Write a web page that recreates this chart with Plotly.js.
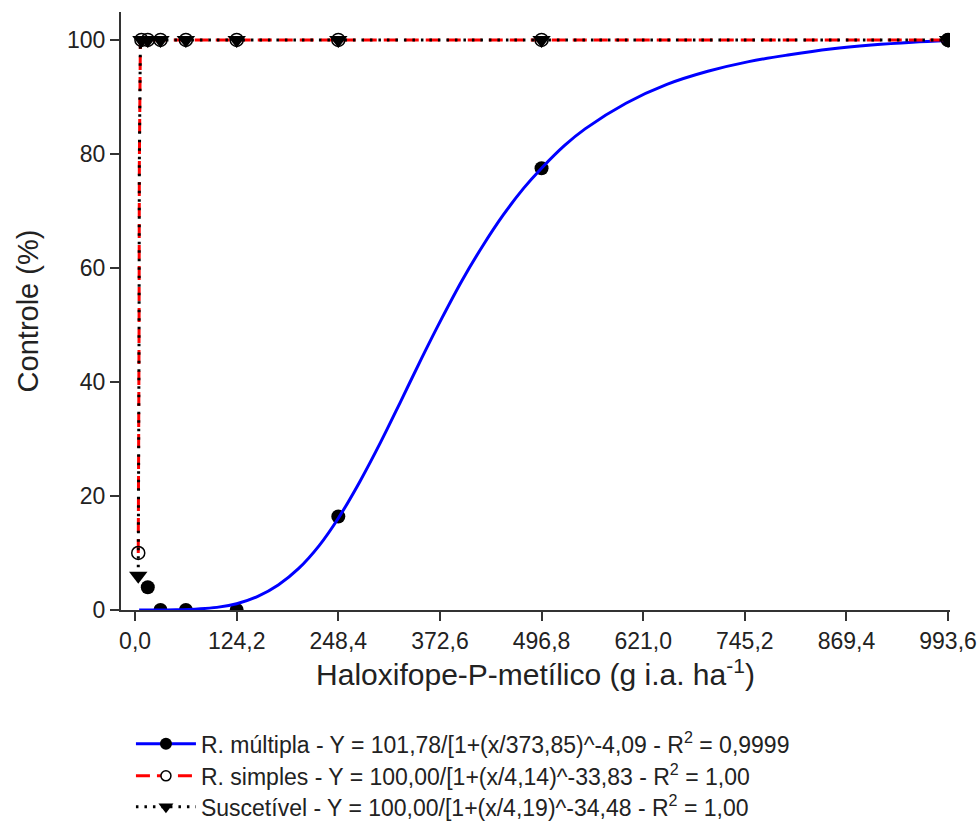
<!DOCTYPE html>
<html>
<head>
<meta charset="utf-8">
<script src="https://cdn.plot.ly/plotly-3.0.1.min.js"></script>
<style>html,body{margin:0;padding:0;background:#fff;}#chart{width:978px;height:824px;}</style>
</head>
<body>
<div id="chart"></div>
<script>
// Observed points
const multDose = [15.53, 31.05, 62.1, 124.2, 248.4, 496.8, 993.6];
const multCtrl = [4.0, 0.0, 0.0, 0.0, 16.4, 77.5, 100.0];
const simDose = [3.88, 7.76, 15.53, 31.05, 62.1, 124.2, 248.4, 496.8, 993.6];
const simCtrl = [10.0, 100, 100, 100, 100, 100, 100, 100, 100];
const susDose = [3.88, 7.76, 15.53, 31.05, 62.1, 124.2, 248.4, 496.8, 993.6];
const susCtrl = [6.0, 100, 100, 100, 100, 100, 100, 100, 100];

// Fitted curves
const multFitX = [5, 50, 100, 124.2, 150, 175, 200, 225, 248.4, 275, 300, 325, 350, 375, 400, 425, 450, 475, 496.8, 525, 550, 600, 650, 700, 750, 800, 850, 900, 950, 993.6];
const multFitY = [0.0, 0.03, 0.46, 1.1, 2.4, 4.4, 7.3, 11.3, 16.1, 22.6, 29.4, 36.7, 44.1, 51.2, 57.9, 63.9, 69.3, 74.0, 77.5, 81.5, 84.4, 88.9, 92.2, 94.5, 96.2, 97.4, 98.4, 99.1, 99.6, 99.9];
const simFitX = [3.88, 4.5, 4.9, 5.2, 5.5, 5.9, 6.5, 7.76, 993.6];
const simFitY = [10.0, 24.0, 50.0, 78.0, 94.0, 99.0, 99.9, 100, 100];
const susFitX = [3.88, 4.5, 4.9, 5.2, 5.5, 5.9, 6.5, 7.76, 993.6];
const susFitY = [6.0, 24.0, 50.0, 78.0, 94.0, 99.0, 99.9, 100, 100];

const xTicks = [0, 124.2, 248.4, 372.6, 496.8, 621.0, 745.2, 869.4, 993.6];
const xTickText = ['0,0', '124,2', '248,4', '372,6', '496,8', '621,0', '745,2', '869,4', '993,6'];
const yTicks = [0, 20, 40, 60, 80, 100];

const legendNames = [
  'R. múltipla - Y = 101,78/[1+(x/373,85)^-4,09 - R<sup>2</sup> = 0,9999',
  'R. simples - Y = 100,00/[1+(x/4,14)^-33,83 - R<sup>2</sup> = 1,00',
  'Suscetível - Y = 100,00/[1+(x/4,19)^-34,48 - R<sup>2</sup> = 1,00'
];

const F = 'Liberation Sans, Arial, sans-serif';
const dotDash = '2.5px,6px';

const traces = [
  // R. múltipla
  {x: multDose, y: multCtrl, mode: 'markers', showlegend: false, hoverinfo: 'skip',
   marker: {symbol: 'circle', size: 14, color: '#000'}},
  {x: multFitX, y: multFitY, mode: 'lines', showlegend: false, line: {color: '#0000ff', width: 3, shape: 'spline'}},
  // R. simples
  {x: simFitX, y: simFitY, mode: 'lines', showlegend: false, line: {color: '#ff0000', width: 3, dash: '14px,7px'}},
  {x: simDose, y: simCtrl, mode: 'markers', showlegend: false,
   marker: {symbol: 'circle-open', size: 13, color: '#000', line: {width: 1.5}}},
  // Suscetível
  {x: susFitX, y: susFitY, mode: 'lines', showlegend: false, line: {color: '#000', width: 3, dash: dotDash}},
  {x: susDose, y: susCtrl, mode: 'markers', showlegend: false,
   marker: {symbol: 'triangle-down', size: 16, color: '#000'}},
  // legend entries
  {x: [null], y: [null], mode: 'lines+markers', name: legendNames[0],
   line: {color: '#0000ff', width: 3}, marker: {symbol: 'circle', size: 12, color: '#000'}},
  {x: [null], y: [null], mode: 'lines+markers', name: legendNames[1],
   line: {color: '#ff0000', width: 3, dash: '14px,7px'}, marker: {symbol: 'circle', size: 10, color: '#fff', line: {color: '#000', width: 1.5}}},
  {x: [null], y: [null], mode: 'lines+markers', name: legendNames[2],
   line: {color: '#000', width: 3, dash: dotDash}, marker: {symbol: 'triangle-down', size: 13, color: '#000'}}
];

const layout = {
  width: 978, height: 824,
  margin: {l: 121, r: 28, t: 12, b: 214},
  paper_bgcolor: '#fff', plot_bgcolor: '#fff',
  font: {family: F, color: '#222', size: 20},
  showlegend: true,
  legend: {x: 0.012, xanchor: 'left', y: -0.145, yanchor: 'top',
           bgcolor: 'rgba(0,0,0,0)',
           font: {family: F, size: 23, color: '#222'}, itemwidth: 60, tracegroupgap: 0, traceorder: 'normal'},
  xaxis: {
    range: [-17.2, 996], tickmode: 'array', tickvals: xTicks, ticktext: xTickText, automargin: 'height',
    showline: true, linecolor: '#333', linewidth: 2, ticks: 'outside', ticklen: 9, tickwidth: 2, tickcolor: '#333',
    showgrid: false, zeroline: false, tickfont: {family: F, size: 23, color: '#222'},
    title: {text: 'Haloxifope-P-metílico (g i.a. ha<sup>-1</sup>)', font: {family: F, size: 30, color: '#222'}, standoff: 0}
  },
  yaxis: {
    range: [0, 104.9], tickmode: 'array', tickvals: yTicks, automargin: 'width',
    showline: true, linecolor: '#333', linewidth: 2, ticks: 'outside', ticklen: 9, tickwidth: 2, tickcolor: '#333',
    showgrid: false, zeroline: false, tickfont: {family: F, size: 23, color: '#222'},
    title: {text: 'Controle (%)', font: {family: F, size: 29, color: '#222'}, standoff: 20}
  }
};

function parseT(el) {
  const m = /translate\(\s*([-\d.e]+)[ ,]+([-\d.e]+)\s*\)/.exec(el.getAttribute('transform') || '');
  return m ? [parseFloat(m[1]), parseFloat(m[2])] : [0, 0];
}

Plotly.newPlot('chart', traces, layout, {displayModeBar: false, staticPlot: true}).then(() => {
  document.querySelectorAll('.scatterlayer .trace').forEach(g => g.style.clipPath = 'none');
  // place legend rows at the reference's spacing
  const sb = document.querySelector('g.legend .scrollbox');
  if (sb) { sb.removeAttribute('clip-path'); sb.style.clipPath = 'none'; }
  const targets = [745, 777, 808];
  document.querySelectorAll('g.legend g.traces').forEach((g, i) => {
    const txt = g.querySelector('text.legendtext');
    if (!txt) return;
    const r = txt.getBoundingClientRect();
    const cy = r.top + r.height / 2 + 2;
    const [tx, ty] = parseT(g);
    g.setAttribute('transform', `translate(${tx},${ty + (targets[i] - cy)})`);
  });
});
</script>
</body>
</html>
